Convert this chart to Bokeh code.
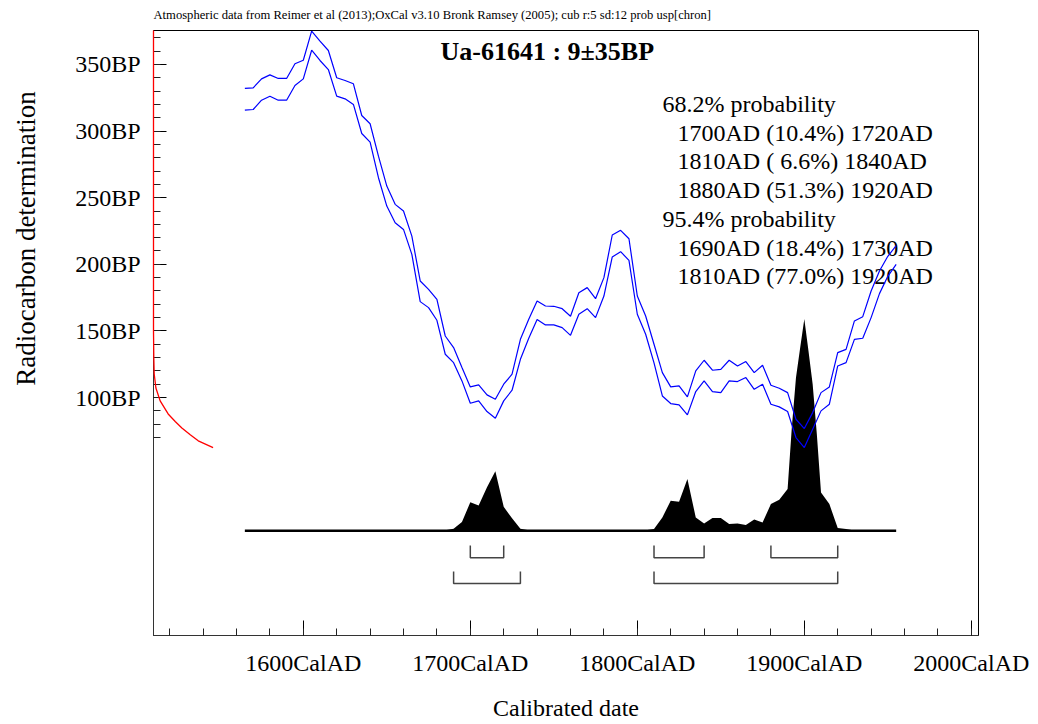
from bokeh.plotting import figure
from bokeh.models import Range1d, FixedTicker, Label, Title
from bokeh.embed import file_html
from bokeh.resources import INLINE

FONT = "Liberation Serif"

# ---------------- data ----------------
cal_years = list(range(1565, 1956, 5))
cal_upper = [332.0, 332.5, 339.2, 342.2, 339.5, 339.5, 350.5, 353.2,
             375.0, 367.5, 360.5, 340.0, 338.0, 335.5, 311.7, 305.5, 281.2, 258.7,
             245.0, 240.0, 221.2, 187.5, 181.2, 173.7, 146.2, 137.5, 122.5, 108.0,
             109.5, 102.0, 98.7, 110.0, 117.5, 143.7, 158.7, 172.5, 168.7, 168.5,
             166.7, 161.0, 178.7, 182.5, 174.2, 190.0, 222.0, 225.5, 219.2, 176.2,
             161.2, 140.0, 118.7, 108.0, 108.7, 100.5, 120.0, 128.0, 120.5, 121.2,
             128.0, 123.7, 127.0, 118.7, 124.2, 109.2, 107.0, 103.7, 83.7, 76.7,
             88.7, 103.7, 108.0, 133.7, 136.2, 157.5, 160.7, 180.0, 195.0, 206.0,
             214.0]
cal_lower = [315.7, 316.2, 323.2, 326.2, 323.2, 323.2, 334.2, 339.2,
             360.7, 353.0, 346.2, 326.2, 324.2, 320.0, 298.2, 291.7, 265.0, 243.7,
             231.2, 226.2, 207.5, 172.0, 167.5, 158.0, 132.5, 126.2, 112.5, 95.7,
             97.5, 89.5, 84.5, 97.5, 105.5, 128.7, 144.5, 158.5, 154.5, 154.5,
             152.5, 146.7, 162.5, 166.7, 160.0, 176.2, 205.5, 209.5, 203.0, 162.5,
             147.5, 126.0, 101.2, 95.5, 94.5, 87.0, 104.5, 112.5, 104.5, 103.7,
             112.5, 112.0, 115.0, 106.2, 110.0, 95.0, 93.0, 89.5, 70.0, 62.5,
             76.2, 90.0, 95.0, 123.7, 126.2, 143.7, 144.5, 160.0, 178.0, 191.0,
             200.0]

# calibrated probability, percent of peak
prob_years = [1565, 1675, 1680, 1685, 1690, 1695, 1700, 1705, 1710, 1715, 1720,
              1725, 1730, 1735, 1740, 1745, 1795, 1800, 1805, 1810, 1815, 1820,
              1825, 1830, 1835, 1840, 1845, 1850, 1855, 1860, 1865, 1870, 1875,
              1880, 1885, 1890, 1892.5, 1895, 1897.5, 1900, 1902.5, 1905, 1907.5,
              1910, 1915, 1920, 1925, 1930, 1935, 1955]
prob_vals = [0, 0.05, 0.1, 0.3, 0.9, 4.1, 13.5, 11.9, 20.6, 28.1, 11.3,
             5.9, 0.9, 0.2, 0.1, 0.05, 0.05, 0.1, 0.3, 0.8, 6.3, 14.2,
             13.7, 24.4, 6.3, 3.4, 6.0, 6.0, 3.2, 3.4, 2.7, 5.3, 3.9,
             12.6, 14.6, 19.7, 48.6, 72.2, 86.3, 100, 84.9, 69.2, 45.6,
             18.1, 12.6, 1.3, 0.8, 0.1, 0.05, 0]

# measured radiocarbon age distribution (percent of peak)
red_bp = [375.5, 150, 130, 117.7, 107.2, 97.5, 87.7, 82, 77.2, 72, 67.5, 62.4]
red_density = [0, 0, 0.16, 0.37, 1.26, 3.5, 7.7, 11.4, 14.9, 19.3, 23.5, 31.3]

ranges_68 = [(1700, 1720), (1810, 1840), (1880, 1920)]
ranges_95 = [(1690, 1730), (1810, 1920)]

title_text = "Ua-61641 : 9\u00b135BP"
note_text = ("Atmospheric data from Reimer et al (2013);OxCal v3.10 Bronk Ramsey (2005); "
             "cub r:5 sd:12 prob usp[chron]")
legend_head = ["68.2% probability", "95.4% probability"]
legend_68 = ["1700AD (10.4%) 1720AD", "1810AD ( 6.6%) 1840AD", "1880AD (51.3%) 1920AD"]
legend_95 = ["1690AD (18.4%) 1730AD", "1810AD (77.0%) 1920AD"]
x_title = "Calibrated date"
y_title = "Radiocarbon determination"

x_major = [1600, 1700, 1800, 1900, 2000]
x_minor = list(range(1520, 2001, 20))
y_major = [100, 150, 200, 250, 300, 350]
y_minor = list(range(70, 371, 10))

# ---------------- layout ----------------
X0, X1 = 1510.3, 2004.3
Y0, Y1 = -78.6, 375.5
FL, FT, FW, FH = 153, 29, 825, 606   # frame on page
W, H = 1030, 724

def dx(px):
    return X0 + (px - FL) * (X1 - X0) / FW

def dy(py):
    return Y1 - (py - FT) * (Y1 - Y0) / FH

PROB_SCALE = 159.0   # BP units for 100 %
RED_SCALE = 114.0    # years for 100 %

p = figure(width=W, height=H, x_range=Range1d(X0, X1), y_range=Range1d(Y0, Y1),
           output_backend="svg", toolbar_location=None,
           min_border_left=FL, min_border_right=W - FL - FW,
           min_border_top=FT, min_border_bottom=H - FT - FH)
p.grid.visible = False
p.outline_line_color = "black"
p.outline_line_width = 1
p.background_fill_color = "white"
p.border_fill_color = "white"

p.add_layout(Title(text=note_text, text_font=FONT, text_font_size="12.6px",
                   text_font_style="normal", text_color="black", align="left",
                   vertical_align="top", standoff=14), "above")

for ax, ticks, minor, suffix, tin, sto in ((p.xaxis, x_major, x_minor, "CalAD", 15, 14),
                                           (p.yaxis, y_major, y_minor, "BP", 13, 13)):
    ax.ticker = FixedTicker(ticks=ticks, minor_ticks=minor)
    ax.major_label_overrides = {t: f"{t}{suffix}" for t in ticks}
    ax.major_label_text_font = FONT
    ax.major_label_text_font_size = "24px"
    ax.major_label_text_color = "black"
    ax.major_tick_in = tin
    ax.major_tick_out = 0
    ax.minor_tick_in = 7
    ax.minor_tick_out = 0
    ax.major_tick_line_color = "black"
    ax.minor_tick_line_color = "#222222"
    ax.axis_line_color = "#333333"
    ax.major_label_standoff = sto
    ax.axis_label_text_font = FONT
    ax.axis_label_text_font_style = "normal"
    ax.axis_label_text_color = "black"
p.yaxis.major_label_orientation = "horizontal"
# the y title sits centred on the tick span (70-370 BP), above the frame centre:
# leading no-break spaces shift the visible words upward along the axis
p.yaxis.axis_label = "\u00a0" * 28 + y_title
p.yaxis.axis_label_text_font_size = "27px"
p.yaxis.axis_label_standoff = 31
p.xaxis.axis_label = x_title
p.xaxis.axis_label_text_font_size = "24px"
p.xaxis.axis_label_standoff = 16

# probability distribution
p.varea(x=prob_years, y1=[0] * len(prob_years),
        y2=[v * PROB_SCALE / 100 for v in prob_vals], fill_color="black")
p.line([prob_years[0], prob_years[-1]], [0, 0], line_color="black", line_width=2.5)

# range brackets
def brackets(rngs, top, bot):
    xs = [[a, a, b, b] for a, b in rngs]
    ys = [[top, bot, bot, top] for _ in rngs]
    p.multi_line(xs, ys, line_color="#444444", line_width=1.5)

brackets(ranges_68, -11, -20.3)
brackets(ranges_95, -30.5, -39.5)

# calibration curve
p.line(cal_years, cal_upper, line_color="blue", line_width=1.2)
p.line(cal_years, cal_lower, line_color="blue", line_width=1.2)

# measured distribution on the y axis
p.line([X0 + d / 100 * RED_SCALE for d in red_density], red_bp,
       line_color="red", line_width=1.3, level="overlay")

# texts inside the frame
def lab(text, px, py, size="24px", style="normal", level="annotation"):
    p.add_layout(Label(x=dx(px), y=dy(py), text=text, text_font=FONT, text_font_size=size,
                       text_align="left", text_baseline="middle", text_font_style=style,
                       text_color="black", level=level))

lab(title_text, 440, 50, size="26px", style="bold")
rows = [(legend_head[0], 662)] + [(t, 677) for t in legend_68] + \
       [(legend_head[1], 662)] + [(t, 677) for t in legend_95]
for i, (t, px) in enumerate(rows):
    lab(t, px, 102.5 + i * 28.8, level="underlay")

open("out.html", "w").write(file_html(p, INLINE))
